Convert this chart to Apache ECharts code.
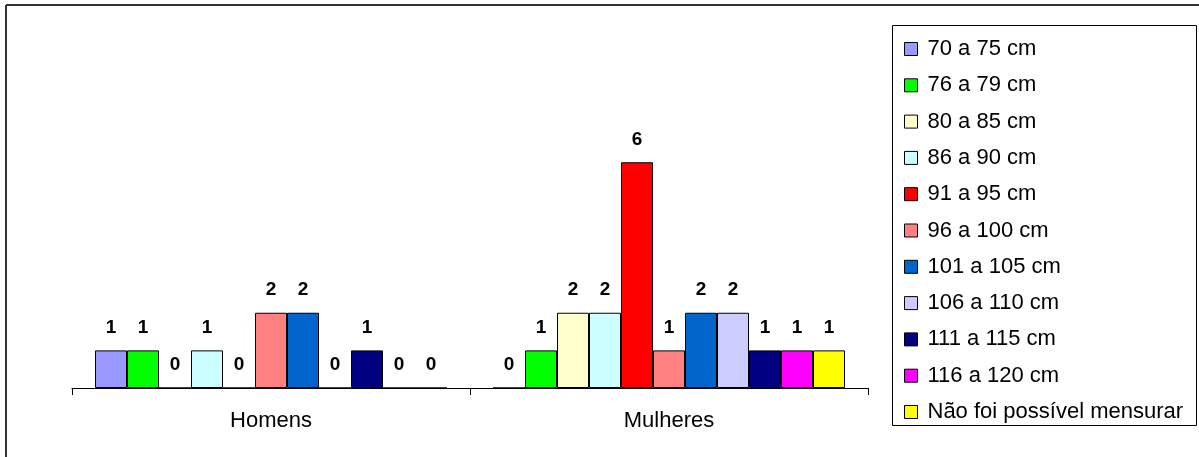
<!DOCTYPE html>
<html>
<head>
<meta charset="utf-8">
<script src="https://cdn.jsdelivr.net/npm/echarts@6/dist/echarts.min.js"></script>
<style>
  html, body { margin: 0; padding: 0; background: #fff; }
  #chart { width: 1199px; height: 457px; }
</style>
</head>
<body>
<div id="chart"></div>
<script>
// Groups on the x axis
const categories = ['Homens', 'Mulheres'];

// Waist circumference ranges (one series each)
const seriesNames = [
  '70 a 75 cm', '76 a 79 cm', '80 a 85 cm', '86 a 90 cm', '91 a 95 cm',
  '96 a 100 cm', '101 a 105 cm', '106 a 110 cm', '111 a 115 cm',
  '116 a 120 cm', 'Não foi possível mensurar'
];

// Counts per range: [Homens, Mulheres]
const counts70_75   = [1, 0];
const counts76_79   = [1, 1];
const counts80_85   = [0, 2];
const counts86_90   = [1, 2];
const counts91_95   = [0, 6];
const counts96_100  = [2, 1];
const counts101_105 = [2, 2];
const counts106_110 = [0, 2];
const counts111_115 = [1, 1];
const counts116_120 = [0, 1];
const countsNaoMens = [0, 1];

const seriesValues = [
  counts70_75, counts76_79, counts80_85, counts86_90, counts91_95,
  counts96_100, counts101_105, counts106_110, counts111_115,
  counts116_120, countsNaoMens
];

const seriesColors = [
  '#9999FF', '#00FF00', '#FFFFCC', '#CCFFFF', '#FF0000',
  '#FF8080', '#0066CC', '#CCCCFF', '#000080', '#FF00FF', '#FFFF00'
];

const FONT = '"Liberation Sans", Arial, sans-serif';

const chart = echarts.init(document.getElementById('chart'), null, { renderer: 'canvas' });

const series = seriesNames.map((name, i) => ({
  name: name,
  type: 'bar',
  data: seriesValues[i],
  barWidth: 32,
  barGap: '0%',
  itemStyle: { color: seriesColors[i], borderColor: '#000', borderWidth: 1 },
  label: {
    show: true,
    position: 'top',
    distance: 13,
    color: '#000',
    fontFamily: FONT,
    fontWeight: 'bold',
    fontSize: 19
  },
  emphasis: { disabled: true }
}));

chart.setOption({
  animation: false,
  backgroundColor: '#fff',
  grid: { left: 72, right: 1199 - 868, top: 87, bottom: 457 - 388, containLabel: false },
  xAxis: {
    type: 'category',
    data: categories,
    axisLine: { show: true, lineStyle: { color: '#000', width: 1 } },
    axisTick: { show: true, alignWithLabel: false, length: 7, lineStyle: { color: '#000' } },
    axisLabel: { color: '#000', fontFamily: FONT, fontSize: 22, lineHeight: 24, margin: 21 }
  },
  yAxis: {
    type: 'value',
    min: 0,
    max: 8,
    interval: 1,
    show: false,
    splitLine: { show: false }
  },
  legend: {
    orient: 'vertical',
    left: 899,
    top: 32,
    itemWidth: 13,
    itemHeight: 13,
    itemGap: 12.3,
    icon: 'rect',
    selectedMode: false,
    itemStyle: { borderColor: '#000', borderWidth: 1 },
    textStyle: { color: '#000', fontFamily: FONT, fontSize: 22, lineHeight: 24, padding: [0, 0, 0, 5] },
    data: seriesNames
  },
  graphic: [
    // outer chart-area frame (top and left edges)
    { type: 'line', shape: { x1: 6, y1: 5, x2: 1199, y2: 5 }, style: { stroke: '#333', lineWidth: 2 }, z: 10 },
    { type: 'line', shape: { x1: 6, y1: 5, x2: 6, y2: 457 }, style: { stroke: '#333', lineWidth: 2 }, z: 10 },
    // legend frame
    { type: 'rect', shape: { x: 892.5, y: 25.5, width: 304, height: 400 },
      style: { fill: 'none', stroke: '#000', lineWidth: 1 }, z: 10 }
  ],
  series: series
});
</script>
</body>
</html>
